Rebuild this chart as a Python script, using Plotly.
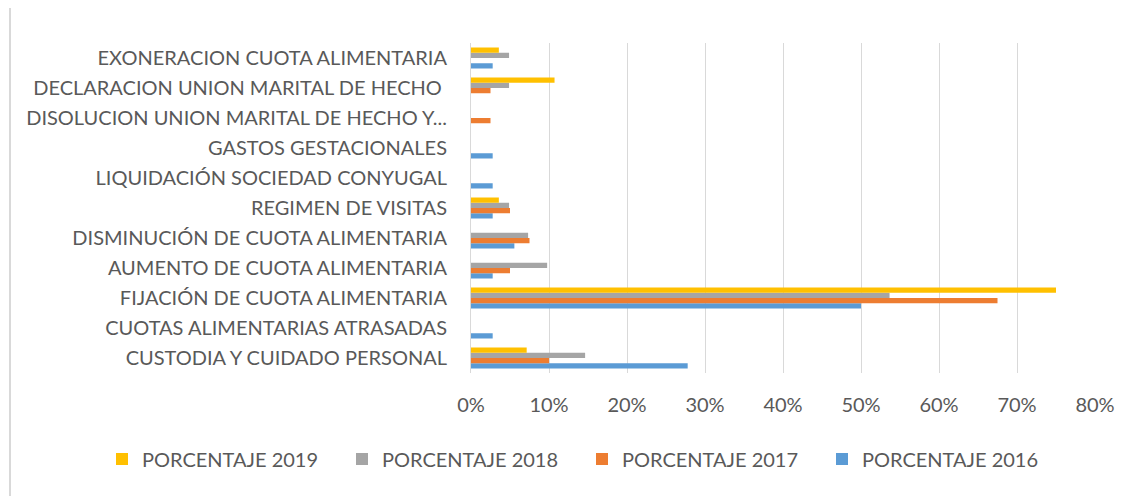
import plotly.graph_objects as go

categories = [
    "CUSTODIA Y CUIDADO PERSONAL",
    "CUOTAS ALIMENTARIAS ATRASADAS",
    "FIJACIÓN DE CUOTA ALIMENTARIA",
    "AUMENTO DE CUOTA ALIMENTARIA",
    "DISMINUCIÓN DE CUOTA ALIMENTARIA",
    "REGIMEN DE VISITAS",
    "LIQUIDACIÓN SOCIEDAD CONYUGAL",
    "GASTOS GESTACIONALES",
    "DISOLUCION UNION MARITAL DE HECHO Y...",
    "DECLARACION UNION MARITAL DE HECHO ",
    "EXONERACION CUOTA ALIMENTARIA",
]

pct_2016 = [0.2778, 0.0278, 0.5000, 0.0278, 0.0556, 0.0278, 0.0278, 0.0278, None, None, 0.0278]
pct_2017 = [0.1000, None, 0.6750, 0.0500, 0.0750, 0.0500, None, None, 0.0250, 0.0250, None]
pct_2018 = [0.1463, None, 0.5366, 0.0976, 0.0732, 0.0488, None, None, None, 0.0488, 0.0488]
pct_2019 = [0.0714, None, 0.7500, None, None, 0.0357, None, None, None, 0.1071, 0.0357]

series_names = ["PORCENTAJE 2016", "PORCENTAJE 2017", "PORCENTAJE 2018", "PORCENTAJE 2019"]
series_values = [pct_2016, pct_2017, pct_2018, pct_2019]
series_colors = ["#5B9BD5", "#ED7D31", "#A5A5A5", "#FFC000"]

x_ticks = [0, 0.1, 0.2, 0.3, 0.4, 0.5, 0.6, 0.7, 0.8]
x_tick_labels = ["0%", "10%", "20%", "30%", "40%", "50%", "60%", "70%", "80%"]

# page has an 8px body margin; figure sized to fit the window
OFF = 8
W, H = 1135 - OFF, 496 - OFF
L = 471 - OFF
T = 43 - OFF
R = W - (1095 - OFF)
B = H - (373 - OFF)
pw = W - L - R
ph = H - T - B

fig = go.Figure()
for name, vals, col in zip(series_names, series_values, series_colors):
    fig.add_trace(go.Bar(
        y=categories, x=vals, name=name, orientation="h",
        marker=dict(color=col, line=dict(width=0)),
    ))

font_family = "Lato, 'Open Sans', sans-serif"
text_color = "#595959"
FS = 20

legend_left_px = 102   # page pixel
legend_mid_px = 459    # page pixel

fig.update_layout(
    width=W, height=H,
    margin=dict(l=L, r=R, t=T, b=B, autoexpand=False),
    paper_bgcolor="white", plot_bgcolor="white",
    barmode="group", bargap=0.3, bargroupgap=0,
    font=dict(family=font_family, color=text_color, size=FS),
    showlegend=True,
    legend=dict(
        orientation="h", traceorder="reversed",
        xref="paper", yref="paper",
        x=(legend_left_px - OFF - L) / pw,
        y=((H - B) - (legend_mid_px - OFF)) / ph,
        xanchor="left", yanchor="middle",
        entrywidth=195, entrywidthmode="pixels",
        font=dict(family=font_family, color=text_color, size=FS),
        itemwidth=30,
    ),
    xaxis=dict(
        range=[0, 0.8], tickvals=x_ticks, ticktext=x_tick_labels,
        showgrid=True, gridcolor="#D9D9D9", gridwidth=1,
        zeroline=False, showline=False, ticks="",
        tickfont=dict(family=font_family, color=text_color, size=FS),
        ticklabelstandoff=18, fixedrange=True,
    ),
    yaxis=dict(
        type="category", categoryorder="array", categoryarray=categories,
        showgrid=False, zeroline=False,
        showline=True, linecolor="#D9D9D9", linewidth=1,
        ticks="", ticklabelstandoff=19,
        tickfont=dict(family=font_family, color=text_color, size=FS),
        fixedrange=True,
    ),
)

# chart-area border remnant on the left edge
fig.add_shape(
    type="line", xref="paper", yref="paper",
    x0=(10 - OFF - L) / pw, x1=(10 - OFF - L) / pw,
    y0=-B / ph, y1=(H - B) / ph,
    line=dict(color="#D9D9D9", width=2),
)

fig.write_html("out.html")
